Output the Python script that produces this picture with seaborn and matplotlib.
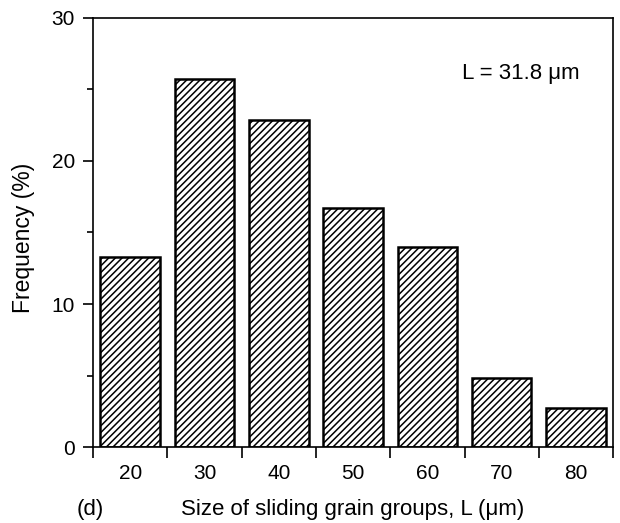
import matplotlib
matplotlib.use("Agg")
import matplotlib.pyplot as plt
from matplotlib.ticker import FixedLocator
import seaborn as sns
import pandas as pd

# grain group size classes (um) and frequency (%)
sizes = ["20", "30", "40", "50", "60", "70", "80"]
freq = [13.3, 25.7, 22.9, 16.7, 14.0, 4.8, 2.7]

df = pd.DataFrame({"size": sizes, "freq": freq})

sns.set_style("ticks", {"axes.edgecolor": "black", "text.color": "black",
                        "axes.labelcolor": "black", "xtick.color": "black",
                        "ytick.color": "black"})
plt.rcParams["font.family"] = ["Liberation Sans", "DejaVu Sans"]
plt.rcParams["hatch.linewidth"] = 1.1
plt.rcParams["hatch.color"] = "black"

fig = plt.figure(figsize=(6.2, 5.23), dpi=100)
ax = fig.add_axes([0.15, 0.1453, 0.839, 0.8203])

sns.barplot(data=df, x="size", y="freq", color="white", edgecolor="black",
            linewidth=1.8, hatch="/////", width=0.8, saturation=1, ax=ax)

ax.set_xlim(-0.5, len(sizes) - 0.5)
ax.set_ylim(0, 30)
ax.set_yticks([0, 10, 20, 30])
ax.yaxis.set_minor_locator(FixedLocator([5, 15, 25]))

# labels centred in bars, ticks at class boundaries
ax.set_xticks(range(len(sizes)))
ax.set_xticklabels(sizes)
ax.tick_params(axis="x", which="major", length=0, pad=12, labelsize=15)
ax.xaxis.set_minor_locator(FixedLocator([i - 0.5 for i in range(len(sizes) + 1)]))
ax.tick_params(axis="x", which="minor", length=8, width=1.2, direction="out")
ax.tick_params(axis="y", which="major", length=7, width=1.2, direction="out",
               labelsize=15, pad=6)
ax.tick_params(axis="y", which="minor", length=4, width=1.2, direction="out")

for s in ax.spines.values():
    s.set_visible(True)
    s.set_linewidth(1.2)
    s.set_color("black")

ax.set_ylabel("Frequency (%)", fontsize=16.5, color="black")
ax.yaxis.set_label_coords(-0.112, 0.487)
ax.set_xlabel("Size of sliding grain groups, L (\u03bcm)", fontsize=16, color="black")
ax.xaxis.set_label_coords(0.499, -0.122)
fig.text(77 / 620, 8 / 523, "(d)", fontsize=16, ha="left", va="baseline", color="black")

ax.text(0.71, 0.87, "L = 31.8 \u03bcm", transform=ax.transAxes,
        fontsize=16, ha="left", va="center", color="black")

fig.savefig("out.png", dpi=100)
